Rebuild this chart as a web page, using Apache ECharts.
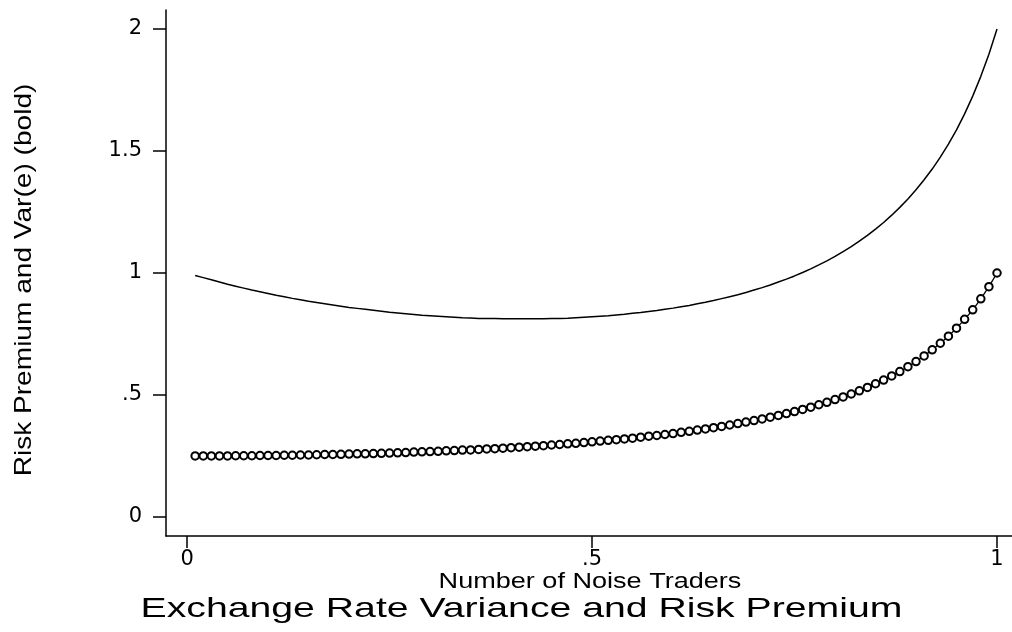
<!DOCTYPE html>
<html>
<head>
<meta charset="utf-8">
<script src="https://cdn.jsdelivr.net/npm/echarts@6/dist/echarts.min.js"></script>
<style>
html,body{margin:0;padding:0;background:#fff;}
#chart{width:1012px;height:632px;}
</style>
</head>
<body>
<div id="chart"></div>
<script>
// Number of noise traders (x)
var noiseTraders = [
 0.01,0.02,0.03,0.04,0.05,0.06,0.07,0.08,0.09,0.10,
 0.11,0.12,0.13,0.14,0.15,0.16,0.17,0.18,0.19,0.20,
 0.21,0.22,0.23,0.24,0.25,0.26,0.27,0.28,0.29,0.30,
 0.31,0.32,0.33,0.34,0.35,0.36,0.37,0.38,0.39,0.40,
 0.41,0.42,0.43,0.44,0.45,0.46,0.47,0.48,0.49,0.50,
 0.51,0.52,0.53,0.54,0.55,0.56,0.57,0.58,0.59,0.60,
 0.61,0.62,0.63,0.64,0.65,0.66,0.67,0.68,0.69,0.70,
 0.71,0.72,0.73,0.74,0.75,0.76,0.77,0.78,0.79,0.80,
 0.81,0.82,0.83,0.84,0.85,0.86,0.87,0.88,0.89,0.90,
 0.91,0.92,0.93,0.94,0.95,0.96,0.97,0.98,0.99,1.00
];
// Var(e) (bold, circles)
var varE = [
 0.250,0.250,0.250,0.250,0.250,0.251,0.251,0.251,0.252,0.252,
 0.252,0.253,0.253,0.254,0.254,0.255,0.256,0.256,0.257,0.258,
 0.259,0.259,0.260,0.261,0.262,0.263,0.264,0.266,0.267,0.268,
 0.269,0.271,0.272,0.274,0.275,0.277,0.279,0.280,0.282,0.284,
 0.286,0.288,0.290,0.292,0.295,0.297,0.300,0.302,0.305,0.308,
 0.311,0.314,0.317,0.320,0.323,0.327,0.331,0.334,0.338,0.342,
 0.347,0.351,0.356,0.361,0.366,0.371,0.377,0.383,0.389,0.395,
 0.402,0.409,0.416,0.424,0.432,0.441,0.450,0.460,0.470,0.481,
 0.492,0.504,0.517,0.531,0.546,0.561,0.578,0.596,0.616,0.637,
 0.660,0.685,0.712,0.741,0.774,0.810,0.849,0.894,0.944,1.000
];
// Risk premium (thin line)
var riskPremium = [
 0.990,0.981,0.972,0.963,0.954,0.946,0.938,0.930,0.923,0.916,
 0.909,0.903,0.896,0.890,0.884,0.879,0.874,0.869,0.864,0.859,
 0.855,0.851,0.847,0.843,0.839,0.836,0.833,0.830,0.827,0.825,
 0.823,0.821,0.819,0.817,0.816,0.814,0.813,0.813,0.812,0.812,
 0.812,0.812,0.812,0.812,0.813,0.814,0.815,0.817,0.819,0.821,
 0.823,0.825,0.828,0.831,0.835,0.838,0.842,0.846,0.851,0.856,
 0.862,0.867,0.874,0.880,0.887,0.895,0.903,0.911,0.920,0.930,
 0.940,0.951,0.963,0.975,0.988,1.002,1.017,1.033,1.050,1.068,
 1.088,1.108,1.131,1.154,1.180,1.207,1.237,1.269,1.303,1.341,
 1.382,1.426,1.475,1.528,1.587,1.652,1.725,1.806,1.897,2.000
];
var xTicks = [0, 0.5, 1];
var yTicks = [0, 0.5, 1, 1.5, 2];
var xTickLabels = ['0', '.5', '1'];
var yTickLabels = ['0', '.5', '1', '1.5', '2'];

function pair(xs, ys){ return xs.map(function(x,i){ return [x, ys[i]]; }); }
function labelFor(ticks, labels){
  return function(v){
    for (var i=0;i<ticks.length;i++){ if (Math.abs(ticks[i]-v)<1e-9) return labels[i]; }
    return '';
  };
}

var chart = echarts.init(document.getElementById('chart'), null, {renderer:'canvas'});
var axisColor = '#000';
var option = {
  animation:false,
  backgroundColor:'#fff',
  grid:{left:166, right:0, top:10, bottom:96},
  xAxis:{
    type:'value', min:-0.026, max:1.0185,
    axisLine:{onZero:false, lineStyle:{color:axisColor, width:1.5}},
    axisTick:{show:true, length:12, customValues:xTicks, lineStyle:{color:axisColor, width:1.5}},
    axisLabel:{customValues:xTicks, formatter:labelFor(xTicks, xTickLabels), color:'#000',
               fontFamily:'DejaVu Sans', fontSize:21, margin:13},
    splitLine:{show:false}
  },
  yAxis:{
    type:'value', min:-0.078, max:2.078,
    axisLine:{onZero:false, lineStyle:{color:axisColor, width:1.5}},
    axisTick:{show:true, length:13, customValues:yTicks, lineStyle:{color:axisColor, width:1.5}},
    axisLabel:{customValues:yTicks, formatter:labelFor(yTicks, yTickLabels), color:'#000',
               fontFamily:'DejaVu Sans', fontSize:21, margin:24},
    splitLine:{show:false}
  },
  graphic:[
    {type:'text', x:521.5, y:609, scaleX:1.40,
     style:{text:'Exchange Rate Variance and Risk Premium', font:'28px "Liberation Sans"', fill:'#000', align:'center', verticalAlign:'middle'}},
    {type:'text', x:590, y:582, scaleX:1.23,
     style:{text:'Number of Noise Traders', font:'22px "Liberation Sans"', fill:'#000', align:'center', verticalAlign:'middle'}},
    {type:'text', x:24, y:280, rotation:Math.PI/2, scaleX:1.17,
     style:{text:'Risk Premium and Var(e) (bold)', font:'24px "Liberation Sans"', fill:'#000', align:'center', verticalAlign:'middle'}}
  ],
  series:[
    {
      name:'Risk Premium', type:'line', data:pair(noiseTraders, riskPremium),
      showSymbol:false, symbol:'none',
      lineStyle:{color:'#000', width:1.5}
    },
    {
      name:'Var(e)', type:'line', data:pair(noiseTraders, varE),
      symbol:'emptyCircle', symbolSize:7.5, showAllSymbol:true,
      itemStyle:{color:'#000', borderColor:'#000', borderWidth:1.4},
      lineStyle:{color:'#000', width:1.3}
    }
  ]
};
chart.setOption(option);
</script>
</body>
</html>
